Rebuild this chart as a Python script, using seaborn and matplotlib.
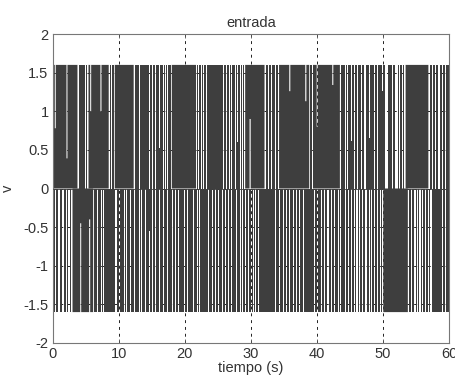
import numpy as np
import matplotlib
matplotlib.use("Agg")
import matplotlib.pyplot as plt
import seaborn as sns

# ---- data -----------------------------------------------------------------
amplitude = 1.6           # level of the stems (V)
t_end = 60.0              # seconds
x_ticks = [0, 10, 20, 30, 40, 50, 60]
y_ticks = [-2, -1.5, -1, -0.5, 0, 0.5, 1, 1.5, 2]

# white gaps in the positive band: time (s), bottom and top of the gap (V)
up_gap_t = [0.39, 2.16, 3.83, 4.99, 5.34, 5.75, 7.31, 8.56, 8.97, 9.32,
            12.34, 13.10, 14.61, 15.13, 15.63, 16.13, 16.73, 17.10, 17.44, 17.94,
            21.79, 22.13, 22.48, 22.89, 23.30, 25.87, 26.37, 26.72, 27.12, 27.62,
            28.03, 28.38, 28.74, 29.05, 29.89, 32.16, 32.67, 33.18, 33.68, 34.19,
            35.90, 38.32, 38.93, 39.33, 40.05, 42.41, 43.57, 44.27, 44.67, 45.28,
            45.69, 46.19, 46.79, 47.29, 47.96, 48.71, 49.21, 49.97, 50.47, 50.73,
            51.48, 51.98, 52.19, 52.54, 52.95, 53.34, 56.97, 57.49, 57.99, 58.49,
            59.00, 59.50]
up_gap_lo = [0.78, 0.39, 0.0, 0.0, 0.0, 1.00, 1.00, 0.0, 0.0, 0.0,
             0.0, 0.0, 0.0, 0.0, 0.0, 0.52, 0.0, 0.0, 0.0, 0.0,
             0.0, 0.0, 0.0, 0.0, 0.0, 0.0, 0.0, 0.0, 0.0, 0.0,
             0.60, 0.0, 0.0, 0.0, 0.0, 0.0, 0.0, 0.0, 0.0, 0.0,
             1.26, 1.13, 0.0, 0.0, 0.80, 1.34, 0.0, 0.0, 0.0, 0.61,
             0.0, 0.0, 0.0, 0.0, 0.66, 0.0, 0.0, 1.26, 0.0, 0.0,
             0.0, 0.0, 0.0, 0.0, 0.0, 0.0, 0.0, 0.0, 0.0, 0.0,
             0.0, 0.0]
up_gap_hi = [1.6] * 34 + [0.90] + [1.6] * 37

# white gaps in the negative band: time (s), bottom and top of the gap (V)
dn_gap_t = [0.39, 0.95, 1.56, 2.06, 2.47, 2.92, 4.24, 5.60, 6.20, 6.85,
            7.35, 7.76, 9.58, 10.18, 10.83, 11.20, 11.85, 12.34, 13.10, 13.51,
            14.01, 14.61, 15.13, 15.63, 16.13, 16.73, 17.34, 18.09, 18.61, 19.11,
            19.91, 20.36, 21.38, 21.88, 22.28, 23.65, 24.15, 24.66, 25.16, 25.66,
            26.11, 26.63, 27.02, 27.88, 28.38, 28.74, 29.14, 29.65, 30.14, 30.39,
            30.65, 31.16, 33.78, 34.39, 34.89, 35.40, 35.90, 36.40, 36.91, 37.41,
            37.91, 39.68, 40.05, 40.70, 41.19, 41.69, 42.21, 42.71, 43.21, 43.57,
            44.27, 44.78, 45.28, 45.69, 46.08, 46.44, 46.94, 47.44, 47.96, 48.31,
            48.71, 49.21, 49.62, 49.97, 53.86, 54.36, 54.86, 55.25, 55.60, 56.01,
            56.51, 56.92, 57.27, 59.00, 59.50]
dn_gap_lo = [-1.6] * 95
dn_gap_hi = [0.0] * 95
dn_gap_hi[6] = -0.45      # partial gaps (lower part only)
dn_gap_hi[7] = -0.40
dn_gap_hi[21] = -0.55

# ---- figure ---------------------------------------------------------------
sns.set_theme(style="white")
plt.rcParams['font.family'] = ['Liberation Sans', 'DejaVu Sans']

W, H = 456, 377
fig = plt.figure(figsize=(W / 100, H / 100), dpi=100)
ax = fig.add_axes([52.7 / W, 1 - 343 / H, (449 - 52.7) / W, (343 - 34) / H])

dark = "#3e3e3e"
gap_w = 0.16
xs = np.arange(0, t_end + 1e-9, 0.01)


def band(ax, base, level, gt, glo, ghi):
    lo = np.full_like(xs, min(base, level))
    hi = np.full_like(xs, max(base, level))
    keep = np.ones_like(xs, dtype=bool)
    top, bot = max(base, level), min(base, level)
    for t, a, b in zip(gt, glo, ghi):
        idx = np.abs(xs - t) < gap_w / 2
        if a <= bot + 1e-9 and b >= top - 1e-9:
            keep[idx] = False
        elif b >= top - 1e-9:
            hi[idx] = a
        elif a <= bot + 1e-9:
            lo[idx] = b
    ax.fill_between(xs, lo, hi, where=keep, step="mid", color=dark,
                    linewidth=0, zorder=2)


band(ax, 0.0, amplitude, up_gap_t, up_gap_lo, up_gap_hi)
band(ax, 0.0, -amplitude, dn_gap_t, dn_gap_lo, dn_gap_hi)

# zero line of the stems through seaborn
sns.lineplot(x=[0, t_end], y=[0, 0], ax=ax, color=dark, linewidth=0.6, zorder=3)

ax.set_xlim(0, t_end)
ax.set_ylim(-2, 2)
ax.set_xticks(x_ticks)
ax.set_yticks(y_ticks)
ax.set_yticklabels([f"{v:g}" for v in y_ticks])
ax.grid(True, axis="both", linestyle=(0, (3, 4)), color="#222222",
        linewidth=0.7, zorder=0)
ax.set_axisbelow(True)
ax.tick_params(direction="in", length=3, width=0.6, color="#555555",
               labelsize=10.5, labelcolor="#333333", pad=3,
               top=True, right=True, bottom=True, left=True)
for s in ax.spines.values():
    s.set_color("#777777")
    s.set_linewidth(0.8)

ax.set_title("entrada", fontsize=10.5, color="#333333", pad=5)
ax.set_xlabel("tiempo (s)", fontsize=10.5, color="#333333", labelpad=0)
ax.set_ylabel("v", fontsize=10.5, color="#333333", labelpad=6)

fig.savefig("out.png", dpi=100, facecolor="white")
